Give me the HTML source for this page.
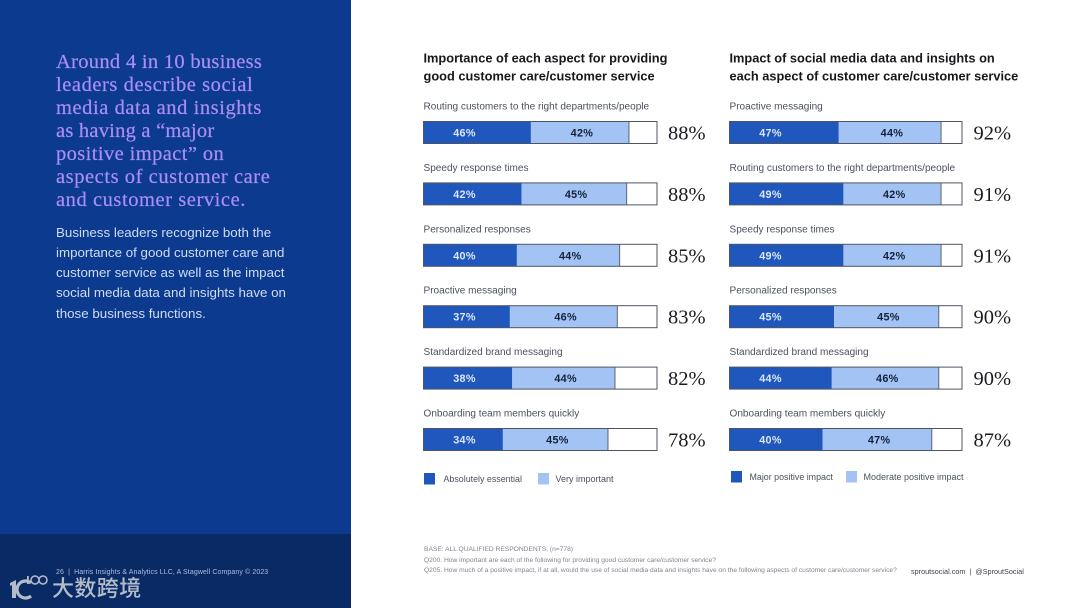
<!DOCTYPE html>
<html lang="en">
<head>
<meta charset="utf-8">
<title>Importance and impact of social media data on customer care</title>
<style>
html,body{margin:0;padding:0;background:#fff;}
#page{position:relative;width:1080px;height:608px;overflow:hidden;background:#fff;font-family:"Liberation Sans",sans-serif;}
#panel{position:absolute;left:0;top:0;width:351px;height:534px;background:#0c3a8e;}
#panel-foot{position:absolute;left:0;top:534px;width:351px;height:74px;background:#0a2a66;}
#headline{position:absolute;left:56px;top:50.5px;width:290px;font-family:"Liberation Serif",serif;font-size:20.5px;line-height:23px;color:#ab8ef3;white-space:nowrap;letter-spacing:.56px;-webkit-text-stroke:.2px #ab8ef3;}
#body-copy{position:absolute;left:56px;top:222.5px;width:290px;font-size:13.35px;line-height:20.3px;color:#cfdcf4;white-space:nowrap;}
#foot-text{position:absolute;left:56px;top:568.5px;font-size:7px;color:#aebcdc;white-space:nowrap;letter-spacing:.1px;}
#wm{position:absolute;left:52px;top:573px;font-family:"Noto Sans CJK SC",sans-serif;font-size:22px;font-weight:500;line-height:28px;color:#b4bcc9;white-space:nowrap;letter-spacing:.4px;}
#logo{position:absolute;left:8px;top:574px;}
svg#chart{position:absolute;left:0;top:0;}
.notes{position:absolute;left:424px;font-size:6.67px;color:#7f848e;white-space:nowrap;}
#sprout{position:absolute;left:911px;top:567px;font-size:7.25px;color:#3a3f4a;white-space:nowrap;}
</style>
</head>
<body>
<div id="page">
  <div id="panel"></div>
  <div id="panel-foot"></div>
  <div id="headline"><span style="letter-spacing:.3px">Around 4 in 10 business</span><br>leaders describe social<br>media data and insights<br><span style="letter-spacing:.23px">as having a “major</span><br><span style="letter-spacing:.4px">positive impact” on</span><br>aspects of customer care<br>and customer service.</div>
  <div id="body-copy">Business leaders recognize both the<br>importance of good customer care and<br>customer service as well as the impact<br>social media data and insights have on<br>those business functions.</div>
  <div id="foot-text">26&nbsp; |&nbsp; Harris Insights &amp; Analytics LLC, A Stagwell Company © 2023</div>
  <svg id="logo" width="44" height="28" viewBox="0 0 44 28">
    <path d="M2 9 L8 6 V24 H4 V11 L2 12 Z" fill="#b4bcc9"/>
    <path d="M23 9 A8.5 8.5 0 1 0 23 22" fill="none" stroke="#b4bcc9" stroke-width="3.2"/>
    <rect x="19" y="2" width="1.8" height="8" fill="#b4bcc9"/>
    <circle cx="27" cy="6" r="4" fill="none" stroke="#b4bcc9" stroke-width="1.5"/>
    <circle cx="35" cy="6" r="4" fill="none" stroke="#b4bcc9" stroke-width="1.5"/>
  </svg>
  <div id="wm">大数跨境</div>
  <svg id="chart" width="1080" height="608" viewBox="0 0 1080 608"></svg>
  <div class="notes" style="top:546px">BASE: ALL QUALIFIED RESPONDENTS, (n=778)</div>
  <div class="notes" style="top:557px">Q200. How important are each of the following for providing good customer care/customer service?</div>
  <div class="notes" style="top:567px">Q205. How much of a positive impact, if at all, would the use of social media data and insights have on the following aspects of customer care/customer service?</div>
  <div id="sprout">sproutsocial.com &nbsp;|&nbsp; @SproutSocial</div>
</div>
<script>
var leftCategories = ["Routing customers to the right departments/people","Speedy response times","Personalized responses","Proactive messaging","Standardized brand messaging","Onboarding team members quickly"];
var leftPrimary = [46,42,40,37,38,34];
var leftSecondary = [42,45,44,46,44,45];
var leftTotals = [88,88,85,83,82,78];
var leftTitle = ["Importance of each aspect for providing","good customer care/customer service"];
var leftLegend = ["Absolutely essential","Very important"];

var rightCategories = ["Proactive messaging","Routing customers to the right departments/people","Speedy response times","Personalized responses","Standardized brand messaging","Onboarding team members quickly"];
var rightPrimary = [47,49,49,45,44,40];
var rightSecondary = [44,42,42,45,46,47];
var rightTotals = [92,91,91,90,90,87];
var rightTitle = ["Impact of social media data and insights on","each aspect of customer care/customer service"];
var rightLegend = ["Major positive impact","Moderate positive impact"];

var svg = document.getElementById('chart');
var NS = 'http://www.w3.org/2000/svg';
var DARK = '#1f57bd', LIGHT = '#a3c3f5', INK = '#14203a', GREY = '#4b5160';

function make(tag, attrs, text) {
  var el = document.createElementNS(NS, tag);
  for (var k in attrs) { el.setAttribute(k, attrs[k]); }
  if (text !== undefined) { el.textContent = text; }
  svg.appendChild(el);
  return el;
}
function xScale(x0, width, v) { return x0 + width * v / 100; }
function yRow(i) { return 121.5 + i * 61.4; }

function drawPanel(key, x0, width, totalX, legendY, legendX1, legendX2, title, cats, prim, sec, totals, legend) {
  title.forEach(function (line, i) {
    var t = make('text', {x: x0, y: 62.5 + i * 18, 'font-size': 12.8, 'font-weight': 700, fill: '#17181c'}, line);
    
    
  });
  cats.forEach(function (cat, i) {
    var y = yRow(i), h = 22;
    var label = make('text', {x: x0, y: y - 12, 'font-size': 10.05, fill: GREY}, cat);
    
    

    var x1 = xScale(x0, width, prim[i]);
    var x2 = xScale(x0, width, prim[i] + sec[i]);
    var a = make('rect', {x: x0, y: y, width: x1 - x0, height: h, fill: DARK});
    
    
    var b = make('rect', {x: x1, y: y, width: x2 - x1, height: h, fill: LIGHT});
    
    
    var edge = make('rect', {x: x2 - 0.5, y: y, width: 1, height: h, fill: '#5d6470'});
    
    
    var frame = make('rect', {x: x0, y: y, width: width, height: h, fill: 'none', stroke: '#4d5563', 'stroke-width': 1});
    
    

    var la = make('text', {x: x0 + 41, y: y + 15, 'font-size': 10.8, 'font-weight': 700, 'letter-spacing': 0.3, fill: '#dbe7fb', 'text-anchor': 'middle'}, prim[i] + '%');
    
    
    var lb = make('text', {x: (x1 + x2) / 2 + 2, y: y + 15, 'font-size': 10.8, 'font-weight': 700, 'letter-spacing': 0.3, fill: INK, 'text-anchor': 'middle'}, sec[i] + '%');
    
    

    var tot = make('text', {x: totalX, y: y + 18, 'font-size': 20.5, fill: '#1b1c20', 'font-family': '"Liberation Serif",serif'}, totals[i] + '%');
    
    
  });
  var s1 = make('rect', {x: legendX1, y: legendY, width: 11, height: 11.5, fill: DARK});
  
  
  var t1 = make('text', {x: x0 + 20, y: legendY + 9, 'font-size': 8.9, fill: GREY}, legend[0]);
  
  
  var s2 = make('rect', {x: legendX2, y: legendY, width: 11, height: 11.5, fill: LIGHT});
  
  
  var t2 = make('text', {x: legendX2 + 17.5, y: legendY + 9, 'font-size': 9, fill: GREY}, legend[1]);
  
  
}

drawPanel('importance', 423.5, 233.5, 668, 473, 424, 538, leftTitle, leftCategories, leftPrimary, leftSecondary, leftTotals, leftLegend);
drawPanel('impact', 729.5, 232.5, 973.5, 471, 731, 846, rightTitle, rightCategories, rightPrimary, rightSecondary, rightTotals, rightLegend);
</script>
</body>
</html>
